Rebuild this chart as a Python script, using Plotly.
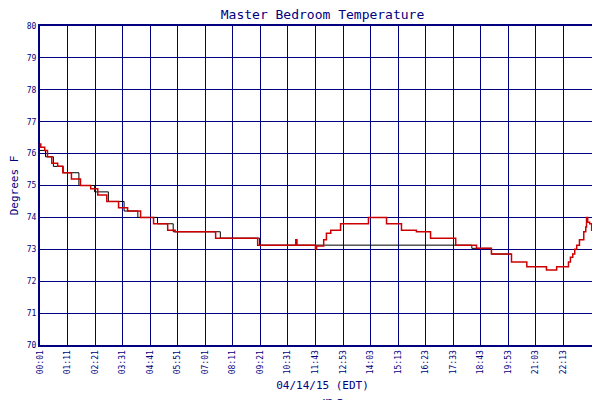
import plotly.graph_objects as go

# minutes after midnight, temperature (deg F) - step series
mb_minutes = [1, 3, 13, 20, 31, 46, 59, 81, 104, 130, 148, 171, 201, 224, 257, 290, 326, 340, 345,
              359, 448, 555, 652, 655, 702, 705, 723, 730, 741, 766, 837, 883, 921, 959, 995, 1059,
              1112, 1150, 1201, 1240, 1290, 1316, 1346, 1351, 1357, 1362, 1367, 1374, 1385, 1390,
              1392, 1395, 1400, 1405, 1415, 1420, 1425, 1435, 1439]
mb_temp = [76.3, 76.2, 76.1, 75.9, 75.7, 75.6, 75.4, 75.2, 75.0, 74.9, 74.7, 74.5, 74.3, 74.2, 74.0,
           73.8, 73.6, 73.6, 73.55, 73.55, 73.35, 73.13, 73.3, 73.13, 73.0, 73.1, 73.3, 73.5, 73.6,
           73.8, 74.0, 73.8, 73.6, 73.55, 73.35, 73.13, 73.03, 72.85, 72.6, 72.45, 72.35, 72.45,
           72.6, 72.75, 72.85, 73.0, 73.13, 73.3, 73.55, 73.7, 74.0, 73.85, 73.8, 73.6, 73.55,
           73.35, 73.13, 73.0, 73.0]

# second (unlabelled) black trace, mostly hidden under the red one
ref_minutes = [1, 15, 35, 60, 100, 140, 175, 215, 250, 300, 340, 460, 560, 1100, 1150, 1200]
ref_temp = [76.1, 75.9, 75.6, 75.4, 75.0, 74.8, 74.5, 74.2, 74.0, 73.8, 73.55, 73.35, 73.13,
            73.03, 72.85, 72.85]

tick_vals = [1, 71, 141, 211, 281, 351, 421, 491, 561, 631, 703, 773, 843, 913, 983, 1053,
             1123, 1193, 1263, 1333, 1438]
tick_text = ["00:01", "01:11", "02:21", "03:31", "04:41", "05:51", "07:01", "08:11", "09:21",
             "10:31", "11:43", "12:53", "14:03", "15:13", "16:23", "17:33", "18:43", "19:53",
             "21:03", "22:13", "23:59"]

navy = "#000080"
fig = go.Figure()
fig.add_trace(go.Scatter(x=ref_minutes, y=ref_temp, mode="lines", line_shape="hv",
                         line=dict(color="black", width=1), showlegend=False))
fig.add_trace(go.Scatter(x=mb_minutes, y=mb_temp, mode="lines", line_shape="hv",
                         line=dict(color="#cc0000", width=1.5), name="MB Temp"))

fig.update_layout(
    width=600, height=400, template=None,
    paper_bgcolor="white", plot_bgcolor="white",
    font=dict(family="DejaVu Sans Mono", size=8, color=navy),
    title=dict(text="Master Bedroom Temperature", x=0.5, xref="paper", y=0.995, yanchor="top",
               font=dict(size=13, color=navy)),
    margin=dict(l=32, r=3, t=18, b=63, autoexpand=False),
    xaxis=dict(range=[1, 1439], tickvals=tick_vals, ticktext=tick_text, tickangle=-90,
               showgrid=True, gridcolor=navy, gridwidth=1, showline=True, linecolor=navy,
               linewidth=2, mirror=True, zeroline=False, automargin=False,
               title=dict(text="04/14/15 (EDT)", font=dict(size=11, color=navy), standoff=8)),
    yaxis=dict(range=[70, 80], dtick=1, showgrid=True, gridcolor=navy, gridwidth=1,
               showline=True, linecolor=navy, linewidth=2, mirror=True, zeroline=False,
               automargin=False,
               title=dict(text="Degrees F", font=dict(size=11, color=navy), standoff=6)),
    legend=dict(orientation="h", x=0.5, xanchor="center", y=-0.18, yanchor="middle",
                font=dict(size=8, color=navy)),
)

fig.write_html("out.html")
